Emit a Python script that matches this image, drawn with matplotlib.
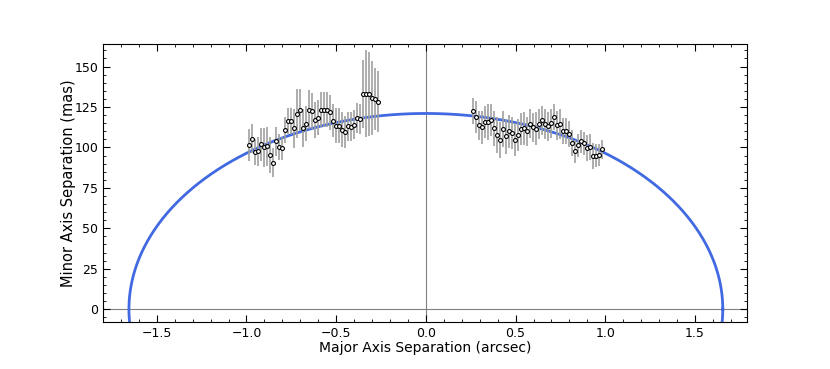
import matplotlib
matplotlib.use("Agg")
import matplotlib.pyplot as plt
import numpy as np
from matplotlib.ticker import MultipleLocator

# west side (negative major axis) measurements
x_left = [-0.987, -0.970, -0.953, -0.936, -0.919, -0.903, -0.886, -0.869, -0.852, -0.835,
          -0.819, -0.802, -0.785, -0.768, -0.751, -0.735, -0.718, -0.701, -0.684, -0.667,
          -0.651, -0.634, -0.617, -0.600, -0.583, -0.567, -0.550, -0.533, -0.516, -0.499,
          -0.483, -0.466, -0.449, -0.432, -0.415, -0.399, -0.382, -0.365, -0.348, -0.331,
          -0.315, -0.298, -0.281, -0.268]
y_left = [101.5, 105.4, 97.3, 97.7, 101.9, 100.0, 100.6, 95.3, 90.5, 103.7,
          100.2, 99.4, 110.8, 116.6, 116.6, 111.8, 120.9, 123.2, 112.0, 114.7,
          123.2, 122.6, 116.8, 118.4, 123.4, 123.4, 123.4, 121.7, 116.6, 113.5,
          113.5, 111.0, 109.7, 113.1, 112.9, 114.1, 118.2, 117.6, 133.3, 133.3,
          133.3, 130.4, 130.0, 128.3]
err_left = [10, 9, 8, 9, 10, 12, 12, 11, 9, 9,
            8, 7, 8, 8, 8, 12, 15, 13, 12, 11,
            12, 11, 11, 11, 11, 11, 11, 11, 10, 11,
            11, 11, 10, 9, 9, 9, 9, 9, 21, 27,
            26, 23, 19, 19]

# east side (positive major axis) measurements
x_right = [0.261, 0.278, 0.295, 0.311, 0.328, 0.345, 0.362, 0.379, 0.395, 0.412,
           0.429, 0.446, 0.462, 0.479, 0.496, 0.513, 0.530, 0.546, 0.563, 0.580,
           0.597, 0.613, 0.630, 0.647, 0.664, 0.681, 0.697, 0.714, 0.731, 0.748,
           0.764, 0.781, 0.798, 0.815, 0.832, 0.848, 0.865, 0.882, 0.899, 0.915,
           0.932, 0.949, 0.966, 0.981]
y_right = [122.5, 119.0, 113.7, 112.4, 115.7, 115.7, 117.0, 111.8, 107.7, 104.6,
           111.4, 106.8, 109.9, 108.9, 104.8, 107.7, 111.4, 111.8, 110.1, 114.7,
           112.4, 111.6, 114.5, 116.7, 114.5, 113.0, 114.9, 119.0, 113.7, 114.5,
           109.9, 109.9, 108.3, 102.7, 97.5, 101.2, 103.7, 102.5, 99.4, 100.0,
           94.9, 94.9, 95.3, 98.8]
err_right = [8, 10, 9, 10, 10, 11, 10, 11, 11, 11,
             11, 11, 10, 10, 10, 10, 10, 10, 9, 9,
             9, 10, 9, 9, 9, 9, 9, 8, 9, 9,
             8, 8, 8, 8, 7, 7, 7, 7, 8, 8,
             8, 7, 7, 6]

# fitted ellipse
a_major = 1.655   # arcsec
b_minor = 121.0   # mas

fig = plt.figure(figsize=(8.3, 3.69), dpi=100)
ax = fig.add_axes([0.124, 0.127, 0.776, 0.754])

ax.axhline(0, color='grey', lw=0.8, zorder=1)
ax.axvline(0, color='grey', lw=0.8, zorder=1)

t = np.linspace(0, 2 * np.pi, 1000)
ax.plot(a_major * np.cos(t), b_minor * np.sin(t), color='royalblue', lw=2, zorder=2)

for xs, ys, es in [(x_left, y_left, err_left), (x_right, y_right, err_right)]:
    ax.errorbar(xs, ys, yerr=es, fmt='o', ms=2.8, mfc='white', mec='black', mew=0.8,
                ecolor='#a0a0a0', elinewidth=1.2, capsize=0, zorder=3)

ax.set_xlim(-1.8, 1.79)
ax.set_ylim(-8, 164)
ax.xaxis.set_major_locator(MultipleLocator(0.5))
ax.xaxis.set_minor_locator(MultipleLocator(0.1))
ax.yaxis.set_major_locator(MultipleLocator(25))
ax.yaxis.set_minor_locator(MultipleLocator(5))
ax.tick_params(which='both', direction='in', top=True, right=True, labelsize=9)
ax.tick_params(which='major', length=5)
ax.tick_params(which='minor', length=2.5)

ax.set_xlabel('Major Axis Separation (arcsec)', fontsize=10, labelpad=1)
ax.set_ylabel('Minor Axis Separation (mas)', fontsize=10.5, labelpad=-1)

fig.savefig('out.png', dpi=100)
